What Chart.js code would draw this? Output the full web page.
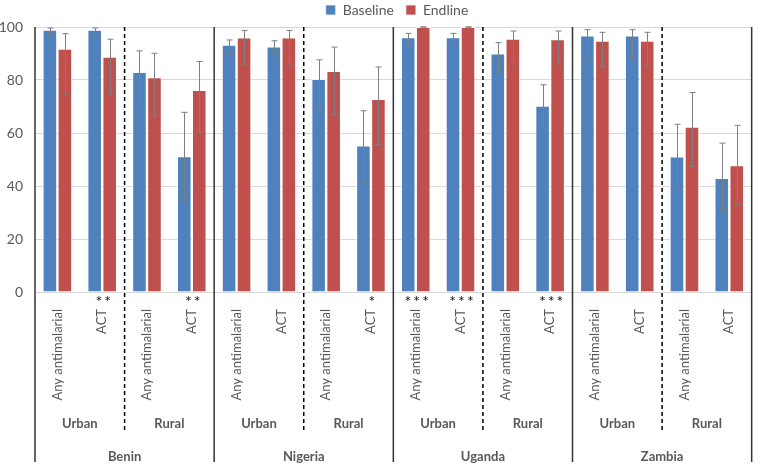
<!DOCTYPE html>
<html>
<head>
<meta charset="utf-8">
<script src="https://cdn.jsdelivr.net/npm/chart.js@4.4.1/dist/chart.umd.min.js"></script>
<style>
  html, body { margin: 0; padding: 0; background: #fff; }
  canvas { display: block; }
</style>
</head>
<body>
<canvas id="chart" width="762" height="467"></canvas>
<script>
var countries = ['Benin', 'Nigeria', 'Uganda', 'Zambia'];
var settings = ['Urban', 'Rural'];
var products = ['Any antimalarial', 'ACT'];

var categories = [];
countries.forEach(function () {
    settings.forEach(function () {
        products.forEach(function (p) { categories.push(p); });
    });
});

var baseline     = [99.0, 99.0, 83.0, 51.2, 93.3, 92.6, 80.4, 55.3, 96.1, 96.1, 90.0, 70.3, 96.8, 96.8, 51.1, 43.0];
var baselineLow  = [97.3, 97.3, 69.7, 34.0, 90.5, 89.8, 69.9, 41.3, 93.1, 93.1, 83.1, 61.3, 87.9, 87.9, 38.8, 30.8];
var baselineHigh = [99.6, 99.6, 91.0, 67.8, 95.1, 94.8, 87.6, 68.4, 97.6, 97.6, 94.1, 78.2, 99.0, 99.0, 63.3, 56.2];

var endline      = [91.8, 88.8, 81.0, 76.2, 96.0, 96.0, 83.4, 72.8, 100, 100, 95.6, 95.4, 94.8, 94.8, 62.4, 47.8];
var endlineLow   = [74.4, 74.4, 66.5, 60.3, 86.0, 86.0, 67.0, 55.6, 100, 100, 86.1, 86.1, 84.9, 84.9, 47.4, 33.0];
var endlineHigh  = [97.5, 95.4, 90.1, 87.0, 98.7, 98.7, 92.4, 84.9, 100, 100, 98.5, 98.5, 98.0, 98.0, 75.3, 62.9];

var stars = ['', '**', '', '**', '', '', '', '*', '***', '***', '', '***', '', '', '', ''];

var FONT = 'Lato, "Liberation Sans", sans-serif';
var TEXT = '#595959';

// error bars, significance stars, separators and group labels
var extras = {
    id: 'extras',
    afterLayout: function (chart) {
        // legend sits a little right of centre in the original
        chart.legend.left += 18;
        chart.legend.right += 18;
    },
    afterDatasetsDraw: function (chart) {
        var ctx = chart.ctx;
        var x = chart.scales.x, y = chart.scales.y;
        var area = chart.chartArea;
        var lows = [baselineLow, endlineLow], highs = [baselineHigh, endlineHigh];

        ctx.save();
        ctx.strokeStyle = '#7f7f7f';
        ctx.lineWidth = 1;
        chart.data.datasets.forEach(function (ds, di) {
            chart.getDatasetMeta(di).data.forEach(function (bar, i) {
                var px = Math.round(bar.x) + 0.5;
                var top = y.getPixelForValue(highs[di][i]);
                var bot = y.getPixelForValue(lows[di][i]);
                ctx.beginPath();
                ctx.moveTo(px, top); ctx.lineTo(px, bot);
                ctx.moveTo(px - 3, top); ctx.lineTo(px + 3, top);
                ctx.moveTo(px - 3, bot); ctx.lineTo(px + 3, bot);
                ctx.stroke();
            });
        });

        // stars under the bars
        ctx.fillStyle = '#111';
        ctx.font = '16px ' + FONT;
        ctx.letterSpacing = '2px';
        ctx.textAlign = 'center';
        ctx.textBaseline = 'alphabetic';
        stars.forEach(function (s, i) {
            if (s) ctx.fillText(s, x.getPixelForValue(i) + 2, area.bottom + 15);
        });
        ctx.letterSpacing = '0px';

        var step = (area.right - area.left) / categories.length;

        // solid lines between countries
        ctx.strokeStyle = '#333';
        ctx.lineWidth = 1.5;
        for (var k = 0; k <= countries.length; k++) {
            var sx = area.left + k * 4 * step;
            ctx.beginPath();
            ctx.moveTo(sx, area.top); ctx.lineTo(sx, 462);
            ctx.stroke();
        }
        // dashed lines between urban / rural
        ctx.strokeStyle = '#000';
        ctx.setLineDash([4, 3]);
        for (k = 0; k < countries.length; k++) {
            var dx = area.left + (k * 4 + 2) * step;
            ctx.beginPath();
            ctx.moveTo(dx, area.top); ctx.lineTo(dx, 431);
            ctx.stroke();
        }
        ctx.setLineDash([]);

        // group labels
        ctx.fillStyle = TEXT;
        ctx.font = 'bold 13px ' + FONT;
        ctx.textBaseline = 'middle';
        countries.forEach(function (c, ci) {
            settings.forEach(function (s, si) {
                ctx.fillText(s, area.left + (ci * 4 + si * 2 + 1) * step, 424);
            });
            ctx.fillText(c, area.left + (ci * 4 + 2) * step, 457);
        });
        ctx.restore();
    }
};

new Chart(document.getElementById('chart'), {
    type: 'bar',
    data: {
        labels: categories,
        datasets: [{
            label: 'Baseline',
            data: baseline,
            backgroundColor: '#4f81bd',
            borderColor: 'rgba(255,255,255,0.7)',
            borderWidth: 1,
            categoryPercentage: 0.67,
            barPercentage: 0.97
        }, {
            label: 'Endline',
            data: endline,
            backgroundColor: '#c0504d',
            borderColor: 'rgba(255,255,255,0.7)',
            borderWidth: 1,
            categoryPercentage: 0.67,
            barPercentage: 0.97
        }]
    },
    options: {
        responsive: false,
        animation: false,
        layout: { padding: { top: -9, right: 4, left: 0, bottom: 0 } },
        plugins: {
            legend: {
                position: 'top',
                labels: {
                    font: { family: FONT, size: 14 },
                    color: TEXT,
                    boxWidth: 10,
                    boxHeight: 10,
                    padding: 12
                }
            },
            tooltip: { enabled: false }
        },
        scales: {
            x: {
                grid: { display: false, drawTicks: false },
                border: { display: false },
                ticks: {
                    minRotation: 90,
                    maxRotation: 90,
                    padding: 17,
                    color: TEXT,
                    font: { family: FONT, size: 13 }
                },
                afterFit: function (scale) { scale.height = 175; }
            },
            y: {
                min: 0,
                max: 100,
                ticks: {
                    stepSize: 20,
                    padding: 12,
                    color: TEXT,
                    font: { family: FONT, size: 14 }
                },
                grid: { color: '#d9d9d9', drawTicks: false },
                border: { display: false },
                afterFit: function (scale) { scale.width = 35; }
            }
        }
    },
    plugins: [extras]
});
</script>
</body>
</html>
